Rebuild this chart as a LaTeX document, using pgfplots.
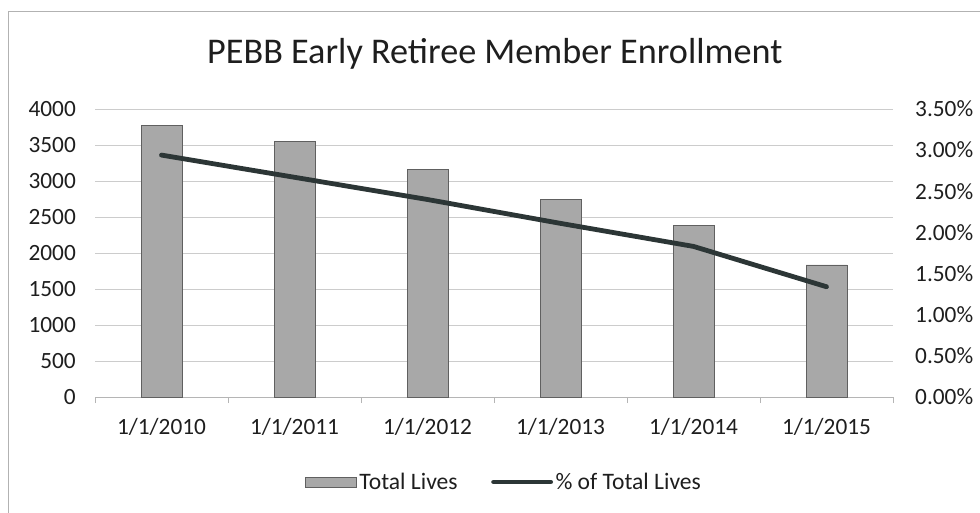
\documentclass[border=0pt]{standalone}
\usepackage{fontspec}
\setmainfont{Carlito}
\usepackage{pgfplots}
\pgfplotsset{compat=1.18}
\definecolor{barfill}{HTML}{A8A8A8}
\definecolor{baredge}{HTML}{606060}
\definecolor{linec}{HTML}{2C3636}
\definecolor{gridc}{HTML}{CCCCCC}
\definecolor{txt}{HTML}{1E1E1E}
\newcommand{\tickfont}{\fontsize{23.3}{26}\selectfont}
\pgfplotsset{
  barleg/.style={legend image code/.code={\draw[##1] (0pt,-5pt) rectangle (51pt,5pt);}},
  lineleg/.style={legend image code/.code={\draw[##1] (0pt,0pt) -- (57pt,0pt);}},
}
\begin{document}
\begin{tikzpicture}[x=1pt,y=1pt]
\useasboundingbox (0,0) rectangle (980,512);
\draw[gray!60, line width=0.8pt] (8,-5) -- (8,501) -- (985,501);
\node[anchor=base west, font=\fontsize{36.2}{40}\selectfont, text=txt, inner sep=0pt] at (207,448) {PEBB Early Retiree Member Enrollment};
\begin{axis}[
  at={(95pt,115pt)}, anchor=south west,
  scale only axis, width=798pt, height=288pt,
  xmin=-0.5, xmax=5.5, ymin=0, ymax=4000,
  ytick={0,500,...,4000},
  ymajorgrids, grid style={gridc, line width=0.8pt},
  axis x line*=bottom, axis y line*=left,
  y axis line style={draw=none},
  x axis line style={gridc!70!gray, line width=0.8pt},
  xtick={-0.5,0.5,...,5.5}, xticklabels={},
  tick align=outside,
  major tick length=6pt,
  x tick style={gridc!70!gray, line width=0.8pt},
  y tick style={draw=none},
  extra x ticks={0,1,2,3,4,5},
  extra x tick labels={1/1/2010,1/1/2011,1/1/2012,1/1/2013,1/1/2014,1/1/2015},
  extra x tick style={major tick length=0pt, grid=none},
  xticklabel style={inner sep=0pt, yshift=-21pt, font=\tickfont, text=txt},
  yticklabel style={inner sep=0pt, xshift=-13pt, anchor=east, font=\tickfont, text=txt},
  /pgf/number format/assume math mode=true,
  /pgf/number format/set thousands separator={},
]
\addplot[ybar, bar width=41pt, fill=barfill, draw=baredge, line width=0.7pt]
  coordinates {(0,3770) (1,3550) (2,3165) (3,2750) (4,2380) (5,1835)};
\end{axis}
\begin{axis}[
  at={(95pt,115pt)}, anchor=south west,
  scale only axis, width=798pt, height=288pt,
  xmin=-0.5, xmax=5.5, ymin=0, ymax=3.5,
  axis x line=none, axis y line*=right,
  y axis line style={draw=none},
  y tick style={draw=none},
  ytick={0,0.5,...,3.5},
  yticklabel={\pgfmathprintnumber[fixed,fixed zerofill,precision=2]{\tick}\%},
  yticklabel style={inner sep=0pt, xshift=22pt, anchor=west, font=\tickfont, text=txt},
  /pgf/number format/assume math mode=true,
  legend columns=2,
  legend style={draw=none, fill=none, at={(0.513,-0.295)}, anchor=center,
    font=\fontsize{23.6}{26}\selectfont, text=txt,
    /tikz/every even column/.append style={column sep=31pt},
    nodes={inner sep=2.5pt}},
  legend cell align=left,
]
\addlegendimage{fill=barfill, draw=baredge, line width=0.7pt, barleg}
\addlegendentry{Total Lives}
\addplot[linec, line width=4.8pt, line cap=round, line join=round, lineleg]
  coordinates {(0,2.94) (1,2.67) (2,2.40) (3,2.11) (4,1.83) (5,1.34)};
\addlegendentry{\% of Total Lives}
\end{axis}
\end{tikzpicture}
\end{document}
